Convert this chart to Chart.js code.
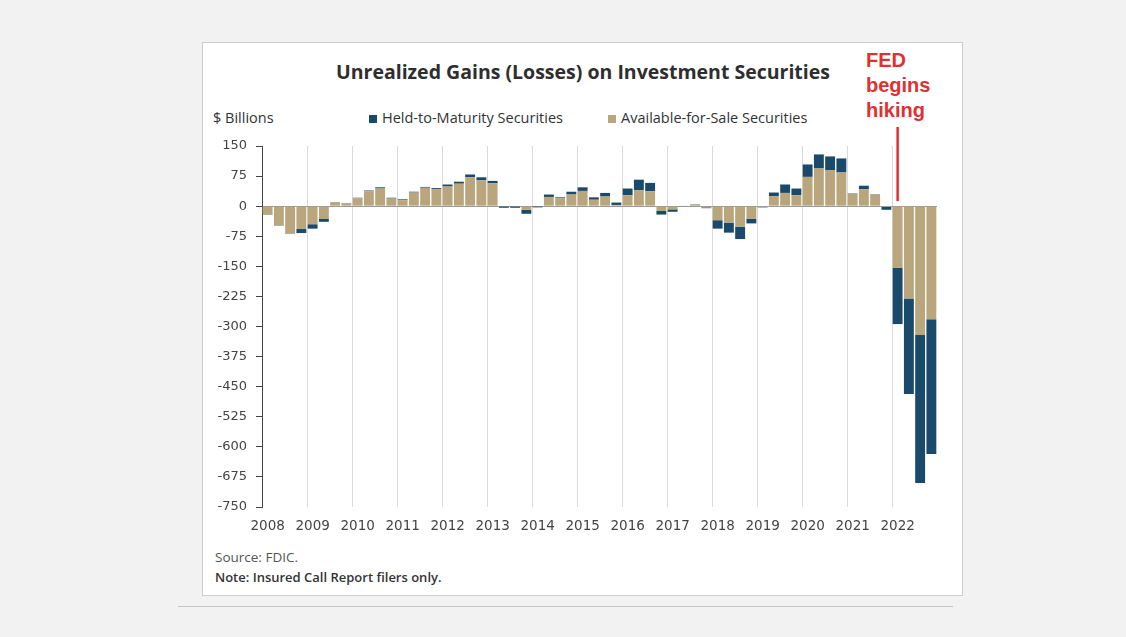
<!DOCTYPE html>
<html>
<head>
<meta charset="utf-8">
<script src="https://cdn.jsdelivr.net/npm/chart.js@4.4.1/dist/chart.umd.min.js"></script>
<style>
  html, body { margin: 0; padding: 0; }
  body { width: 1126px; height: 637px; background: #f2f2f2; position: relative; overflow: hidden; font-family: "Open Sans", sans-serif; }
  .card { position: absolute; left: 202px; top: 42px; width: 761px; height: 554px; box-sizing: border-box; background: #fff; border: 1px solid #cdcdcd; }
  .rule { position: absolute; left: 178px; top: 606px; width: 775px; height: 1px; background: #c6c6c6; }
  .txt { position: absolute; white-space: nowrap; }
  #title { left: 203px; width: 760px; top: 60px; text-align: center; font-weight: 700; font-size: 19.5px; line-height: 24px; color: #2e2e2e; }
  #units { left: 213px; top: 108px; font-size: 14.5px; line-height: 20px; color: #333; }
  .sw { position: absolute; width: 8px; height: 8px; top: 115px; }
  .leg { top: 108px; font-size: 14.5px; line-height: 20px; color: #333; }
  #fed { left: 866px; top: 48px; font-family: "Liberation Sans", Arial, sans-serif; font-weight: 700; font-size: 20px; line-height: 25px; color: #e03131; }
  #source { left: 215px; top: 548px; font-size: 13.5px; line-height: 18px; color: #555; }
  #note { left: 215px; top: 568px; font-size: 13px; line-height: 18px; color: #333; font-weight: 600; }
  #wrap { position: absolute; left: 203px; top: 120px; width: 760px; height: 420px; }
</style>
</head>
<body>
<div class="card"></div>
<div class="rule"></div>
<div class="txt" id="title">Unrealized Gains (Losses) on Investment Securities</div>
<div class="txt" id="units">$ Billions</div>
<div class="sw" style="left:369px;background:#1a4a6b"></div>
<div class="txt leg" style="left:382px">Held-to-Maturity Securities</div>
<div class="sw" style="left:608px;background:#b9a67c"></div>
<div class="txt leg" style="left:621px">Available-for-Sale Securities</div>
<div class="txt" id="fed">FED<br>begins<br>hiking</div>
<div class="txt" id="source">Source: FDIC.</div>
<div class="txt" id="note">Note: Insured Call Report filers only.</div>
<div id="wrap"><canvas id="chart"></canvas></div>
<script>
const years = ['2008', '2009', '2010', '2011', '2012', '2013', '2014', '2015', '2016', '2017', '2018', '2019', '2020', '2021', '2022'];
const quarters = years.flatMap(y => ['Q1', 'Q2', 'Q3', 'Q4'].map(q => y + ' ' + q));

// $ billions, one value per quarter, 2008 Q1 .. 2022 Q4
const availableForSale = [
  -20, -47, -68, -57,
  -45, -32, 9, 7,
  20, 37, 44, 19,
  15, 34, 46, 42,
  49, 56, 72, 65,
  57, -1, -1, -9,
  -1, 23, 20, 29,
  38, 16, 24, 3,
  27, 40, 37, -12,
  -8, 1, 4, -3,
  -35, -41, -51, -31,
  -2, 25, 33, 27,
  73, 94, 90, 84,
  31, 42, 29, -2,
  -154, -230, -321, -282
];
const heldToMaturity = [
  -1, -1, -1, -10,
  -11, -7, 1, 1,
  1, 2, 3, 2,
  2, 2, 2, 3,
  5, 5, 7, 7,
  6, -3, -3, -10,
  -2, 6, 2, 7,
  9, 6, 9, 6,
  17, 26, 21, -9,
  -6, 0, 1, -2,
  -21, -25, -31, -12,
  -1, 9, 21, 17,
  31, 35, 34, 35,
  1, 9, 1, -7,
  -140, -238, -369, -336
];
const fedStart = '2022 Q1';

const navy = '#1a4a6b';
const tan = '#b9a67c';
const red = '#e03131';

const fedLine = {
  id: 'fedLine',
  afterDatasetsDraw(chart) {
    const { ctx, chartArea, scales } = chart;
    const x = scales.x.getPixelForValue(quarters.indexOf(fedStart));
    const y0 = chartArea.top - 19;
    const y1 = scales.y.getPixelForValue(0) - 5;
    ctx.save();
    ctx.strokeStyle = red;
    ctx.lineWidth = 2.5;
    ctx.beginPath();
    ctx.moveTo(x, y0);
    ctx.lineTo(x, y1);
    ctx.stroke();
    ctx.restore();
  }
};

new Chart(document.getElementById('chart'), {
  type: 'bar',
  data: {
    labels: quarters,
    datasets: [
      { label: 'Available-for-Sale Securities', data: availableForSale, backgroundColor: tan, stack: 's' },
      { label: 'Held-to-Maturity Securities', data: heldToMaturity, backgroundColor: navy, stack: 's' }
    ]
  },
  options: {
    responsive: true,
    maintainAspectRatio: false,
    animation: false,
    datasets: { bar: { barPercentage: 0.88, categoryPercentage: 1, borderWidth: 0 } },
    layout: { padding: { top: 26, right: 26, left: 0, bottom: 0 } },
    plugins: { legend: { display: false }, tooltip: { enabled: false } },
    scales: {
      x: {
        stacked: true,
        offset: true,
        border: { display: false },
        grid: {
          offset: true,
          drawTicks: false,
          color: c => (c.index % 4 === 0 ? '#dadada' : 'transparent')
        },
        ticks: {
          autoSkip: false,
          maxRotation: 0,
          padding: 11,
          color: '#444',
          font: { family: 'DejaVu Sans', size: 13.5 },
          callback: (v, i) => (i % 4 === 0 ? years[i / 4] : '')
        },
        afterFit: s => { s.height = 33; }
      },
      y: {
        stacked: true,
        min: -750,
        max: 150,
        border: { display: true, color: '#444', width: 1 },
        grid: {
          tickLength: 6,
          tickColor: '#444',
          color: c => (c.tick && c.tick.value === 0 ? '#9a9a9a' : 'transparent')
        },
        ticks: {
          stepSize: 75,
          padding: 9,
          color: '#444',
          font: { family: 'DejaVu Sans', size: 13 },
          callback: v => String(v)
        },
        afterFit: s => { s.width = 59; }
      }
    }
  },
  plugins: [fedLine]
});
</script>
</body>
</html>
